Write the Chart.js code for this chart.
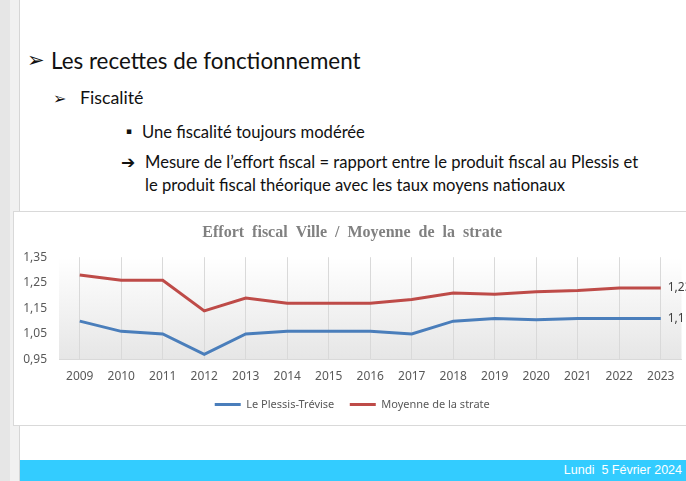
<!DOCTYPE html>
<html lang="fr">
<head>
<meta charset="utf-8">
<title>Effort fiscal</title>
<script src="https://cdn.jsdelivr.net/npm/chart.js@4.4.1/dist/chart.umd.min.js"></script>
<style>
 html, body { margin:0; padding:0; }
 body { width:686px; height:481px; position:relative; overflow:hidden; background:#fff; font-family:Lato, "Noto Sans", sans-serif; color:#111; }
 .strip { position:absolute; left:0; top:0; width:10px; height:481px; background:#e6e6e6; }
 .strip2 { position:absolute; left:10px; top:0; width:9px; height:481px; background:#f1f1f1; border-right:1px solid #d6d6d6; }
 .txt { position:absolute; white-space:nowrap; line-height:1; }
 .sym { font-family:"DejaVu Sans", sans-serif; }
 .box { position:absolute; left:13px; top:211px; width:700px; height:213px; background:#fff; border:1px solid #d9d9d9; }
 #c { position:absolute; left:13px; top:211px; }
 .foot { position:absolute; left:20px; top:460px; width:666px; height:21px; background:#33ccff; }
 .foot span { position:absolute; right:4px; top:3px; color:#fff; font-family:"Liberation Sans Narrow", "Liberation Sans", sans-serif; font-size:12.5px; }
</style>
</head>
<body>
<div class="strip"></div><div class="strip2"></div>

<div class="txt sym" style="left:27px;top:50px;font-size:21px;">&#10146;</div>
<div class="txt" style="left:51px;top:50px;font-size:22.4px;">Les recettes de fonctionnement</div>

<div class="txt sym" style="left:53px;top:91px;font-size:16px;">&#10146;</div>
<div class="txt" style="left:80px;top:89px;font-size:17.8px;">Fiscalité</div>

<div class="txt sym" style="left:126px;top:127px;font-size:9px;">&#9642;</div>
<div class="txt" style="left:142px;top:124px;font-size:16.6px;">Une fiscalité toujours modérée</div>

<div class="txt sym" style="left:121px;top:154px;font-size:17px;font-weight:bold;">&#10132;</div>
<div class="txt" style="left:145px;top:154px;font-size:16.6px;">Mesure de l’effort fiscal = rapport entre le produit fiscal au Plessis et</div>
<div class="txt" style="left:145px;top:177px;font-size:16.6px;">le produit fiscal théorique avec les taux moyens nationaux</div>

<div class="box"></div>
<canvas id="c" width="686" height="209"></canvas>

<div class="foot"><span>Lundi&nbsp; 5 Février 2024</span></div>

<script>
// données
const years = ['2009','2010','2011','2012','2013','2014','2015','2016','2017','2018','2019','2020','2021','2022','2023'];
const plessis = [1.10, 1.06, 1.05, 0.97, 1.05, 1.06, 1.06, 1.06, 1.05, 1.10, 1.11, 1.105, 1.11, 1.11, 1.11];
const moyenne = [1.28, 1.26, 1.26, 1.14, 1.19, 1.17, 1.17, 1.17, 1.185, 1.21, 1.205, 1.215, 1.22, 1.23, 1.23];
const yTicks = [0.95, 1.05, 1.15, 1.25, 1.35];

const fmt = v => v.toFixed(2).replace('.', ',');

// fond dégradé de la zone de tracé
const plotBg = {
 id: 'plotBg',
 beforeDraw(chart) {
  const a = chart.chartArea, ctx = chart.ctx;
  const g = ctx.createLinearGradient(0, a.top, 0, a.bottom);
  g.addColorStop(0, '#ffffff');
  g.addColorStop(1, '#e6e6e6');
  ctx.save();
  ctx.fillStyle = g;
  ctx.fillRect(a.left, a.top, a.right - a.left, a.bottom - a.top);
  ctx.restore();
 }
};

// étiquette de la dernière valeur
const lastLabel = {
 id: 'lastLabel',
 afterDatasetsDraw(chart) {
  const ctx = chart.ctx;
  ctx.save();
  ctx.font = '12px "Noto Sans"';
  ctx.fillStyle = '#404040';
  ctx.textBaseline = 'middle';
  chart.data.datasets.forEach((ds, i) => {
   const pts = chart.getDatasetMeta(i).data;
   const p = pts[pts.length - 1];
   ctx.fillText(fmt(ds.data[ds.data.length - 1]), p.x + 7, p.y);
  });
  ctx.restore();
 }
};

new Chart(document.getElementById('c'), {
 type: 'line',
 data: {
  labels: years,
  datasets: [
   { label: 'Le Plessis-Trévise', data: plessis, borderColor: '#4a7ebb', backgroundColor: '#4a7ebb', borderWidth: 3, pointRadius: 0, tension: 0 },
   { label: 'Moyenne de la strate', data: moyenne, borderColor: '#be4b48', backgroundColor: '#be4b48', borderWidth: 3, pointRadius: 0, tension: 0 }
  ]
 },
 options: {
  responsive: false,
  animation: false,
  layout: { padding: { left: 10, right: 17.5, top: 0, bottom: 0 } },
  scales: {
   x: {
    offset: true,
    grid: { display: true, color: '#d9d9d9', drawTicks: false },
    border: { display: true, color: '#d9d9d9', width: 1 },
    ticks: { color: '#595959', font: { family: 'Noto Sans', size: 12, lineHeight: 1 }, padding: 11, maxRotation: 0, autoSkip: false },
    afterFit: s => { s.height = 24; }
   },
   y: {
    min: 0.95, max: 1.35,
    grid: { display: false, drawTicks: false },
    border: { display: false },
    afterBuildTicks: s => { s.ticks = yTicks.map(v => ({ value: v })); },
    ticks: { color: '#595959', font: { family: 'Noto Sans', size: 12 }, padding: 12, callback: v => fmt(v) },
    afterFit: s => { s.width = 36; }
   }
  },
  plugins: {
   title: {
    display: true,
    text: 'Effort  fiscal  Ville  /  Moyenne  de  la  strate',
    color: '#808080',
    font: { family: 'Liberation Serif', size: 16, weight: 'bold' },
    padding: { top: 12, bottom: 15 }
   },
   legend: {
    position: 'bottom',
    labels: { usePointStyle: true, pointStyle: 'line', pointStyleWidth: 26, boxHeight: 11, color: '#595959', font: { family: 'Noto Sans', size: 11 }, padding: 15.5 }
   },
   tooltip: { enabled: false }
  }
 },
 plugins: [plotBg, lastLabel]
});
</script>
</body>
</html>
